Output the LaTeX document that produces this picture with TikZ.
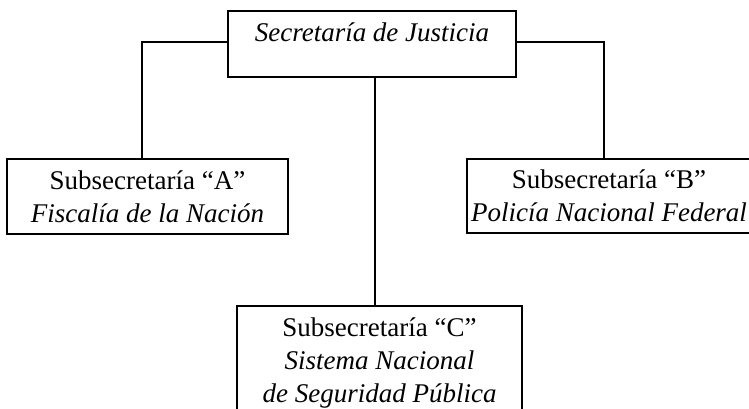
\documentclass[tikz,border=0pt]{standalone}
\usepackage{fontspec}
\setmainfont{Liberation Serif}
\begin{document}
\begin{tikzpicture}[x=1pt,y=1pt,
  box/.style={draw=black, line width=1.2pt, align=center, inner sep=0pt,
    font=\fontsize{27}{33}\selectfont},
  conn/.style={draw=black, line width=1.8pt}]
\useasboundingbox (0,0) rectangle (749,409);
\node[box, minimum width=288, minimum height=66, text depth=24pt] (top) at (372,365)
  {\itshape Secretaría de Justicia};
\node[box, minimum width=281, minimum height=75] (subA) at (147.5,212.5)
  {Subsecretaría “A”\\ \itshape Fiscalía de la Nación};
\node[box, minimum width=284, minimum height=74] (subB) at (609,213)
  {Subsecretaría “B”\\ \itshape Policía Nacional Federal};
\node[box, minimum width=285, minimum height=114] (subC) at (379.5,46)
  {Subsecretaría “C”\\ \itshape Sistema Nacional\\ \itshape de Seguridad Pública};
\coordinate (elbowL) at (142,367);
\coordinate (elbowR) at (604,367);
\coordinate (midT) at (375,332);
\draw[conn] (top.west |- elbowL) -- (elbowL) -- (elbowL |- subA.north);
\draw[conn] (top.east |- elbowR) -- (elbowR) -- (elbowR |- subB.north);
\draw[conn] (midT) -- (midT |- subC.north);
\end{tikzpicture}
\end{document}
